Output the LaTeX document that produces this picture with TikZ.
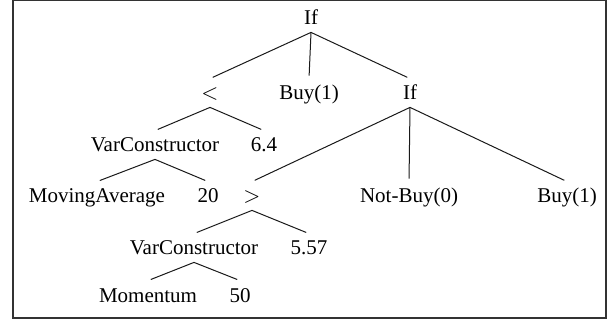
\documentclass[tikz,border=0pt]{standalone}
\usepackage{fontspec}
\setmainfont{Liberation Serif}
\usepackage{tikz}
\tikzset{
  lbl/.style={anchor=base,font=\fontsize{10.5}{12}\selectfont,text height=7pt,text depth=0pt,inner xsep=1pt,inner ysep=3.5pt},
  edge/.style={line width=0.5pt,black!90,shorten >=1.5pt}
}

\begin{document}
\begin{tikzpicture}[x=0.5pt,y=-0.5pt]
\useasboundingbox (0,0) rectangle (615,320);
\draw[line width=1pt,black!80] (13.3,0.5) rectangle (605.7,318);
% level 1 and 2
\node[lbl] (ifroot) at (311,25) {If};
\node[lbl] (lt) at (210,100) {$<$};
\node[lbl] (buyA) at (309,100) {Buy(1)};
\node[lbl] (ifsub) at (410,100) {If};
% level 3
\node[lbl] (varA) at (155,152) {VarConstructor};
\node[lbl] (valA) at (264,152) {6.4};
% level 4
\node[lbl] (ma) at (97,203) {MovingAverage};
\node[lbl] (per) at (208,203) {20};
\node[lbl] (gt) at (252,203) {$>$};
\node[lbl] (notbuy) at (409,203) {Not-Buy(0)};
\node[lbl] (buyB) at (567,203) {Buy(1)};
% level 5 and 6
\node[lbl] (varB) at (194,255) {VarConstructor};
\node[lbl] (valB) at (309,255) {5.57};
\node[lbl] (mom) at (148,302) {Momentum};
\node[lbl] (mper) at (240,302) {50};
\foreach \p/\c in {ifroot/lt,ifroot/buyA,ifroot/ifsub,lt/varA,lt/valA,varA/ma,varA/per,
  ifsub/gt,ifsub/notbuy,ifsub/buyB,gt/varB,gt/valB,varB/mom,varB/mper}
  \draw[edge] (\p.south) -- (\c.north);
\end{tikzpicture}
\end{document}
